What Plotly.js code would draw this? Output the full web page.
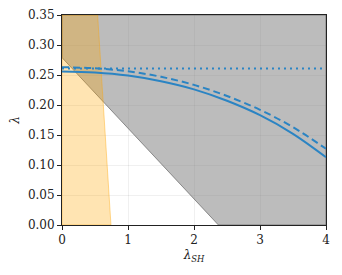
<!DOCTYPE html>
<html>
<head>
<meta charset="utf-8">
<script src="https://cdn.plot.ly/plotly-3.0.1.min.js"></script>
<style>
  body { margin: 0; background: #fff; }
  #plot { width: 342px; height: 275px; }
</style>
</head>
<body>
<div id="plot"></div>
<script>
// excluded regions (polygon vertices)
var grayX = [0, 2.37, 4, 4, 0, 0];
var grayY = [0.279, 0, 0, 0.35, 0.35, 0.279];
var orangeX = [0, 0.742, 0.54, 0, 0];
var orangeY = [0, 0, 0.35, 0.35, 0];

// curves
var curveX = [0, 0.5, 1, 1.5, 2, 2.5, 3, 3.5, 4];
var solidY = [0.256, 0.2542, 0.249, 0.2395, 0.226, 0.207, 0.183, 0.152, 0.113];
var dashedY = [0.263, 0.2612, 0.2562, 0.247, 0.2335, 0.215, 0.192, 0.163, 0.127];
var dottedX = [0, 4];
var dottedY = [0.261, 0.261];

var blue = '#2b84c3';

var data = [
    {
        x: grayX, y: grayY, type: 'scatter', mode: 'lines',
        fill: 'toself', fillcolor: 'rgba(128,128,128,0.53)',
        line: { color: 'rgba(100,100,100,0.7)', width: 1 },
        hoverinfo: 'skip'
    },
    {
        x: orangeX, y: orangeY, type: 'scatter', mode: 'lines',
        fill: 'toself', fillcolor: 'rgba(255,165,0,0.3)',
        line: { color: 'rgba(255,165,0,0.4)', width: 1 },
        hoverinfo: 'skip'
    },
    {
        x: curveX, y: solidY, type: 'scatter', mode: 'lines',
        line: { color: blue, width: 2, shape: 'spline' }
    },
    {
        x: curveX, y: dashedY, type: 'scatter', mode: 'lines',
        line: { color: blue, width: 2, dash: '7px,4px', shape: 'spline' }
    },
    {
        x: dottedX, y: dottedY, type: 'scatter', mode: 'lines',
        line: { color: blue, width: 2, dash: '2px,4px' }
    }
];

var font = { family: 'DejaVu Serif', size: 12, color: '#222' };

var layout = {
    width: 342,
    height: 275,
    margin: { l: 62, r: 16, t: 15, b: 50 },
    showlegend: false,
    paper_bgcolor: '#fff',
    plot_bgcolor: '#fff',
    font: font,
    xaxis: {
        range: [0, 4],
        dtick: 1,
        ticks: 'outside',
        ticklen: 4,
        tickcolor: '#222',
        tickfont: font,
        showline: true,
        mirror: true,
        linecolor: '#222',
        linewidth: 1,
        showgrid: true,
        gridcolor: 'rgba(0,0,0,0.06)',
        zeroline: false,
        title: { text: '<i>λ<sub>SH</sub></i>', font: font, standoff: 4 }
    },
    yaxis: {
        range: [0, 0.35],
        dtick: 0.05,
        tickformat: '.2f',
        ticks: 'outside',
        ticklen: 4,
        tickcolor: '#222',
        tickfont: font,
        showline: true,
        mirror: true,
        linecolor: '#222',
        linewidth: 1,
        showgrid: true,
        gridcolor: 'rgba(0,0,0,0.06)',
        zeroline: false,
        title: { text: '<i>λ</i>', font: font, standoff: 5 }
    }
};

Plotly.newPlot('plot', data, layout, { displayModeBar: false, staticPlot: true });
</script>
</body>
</html>
